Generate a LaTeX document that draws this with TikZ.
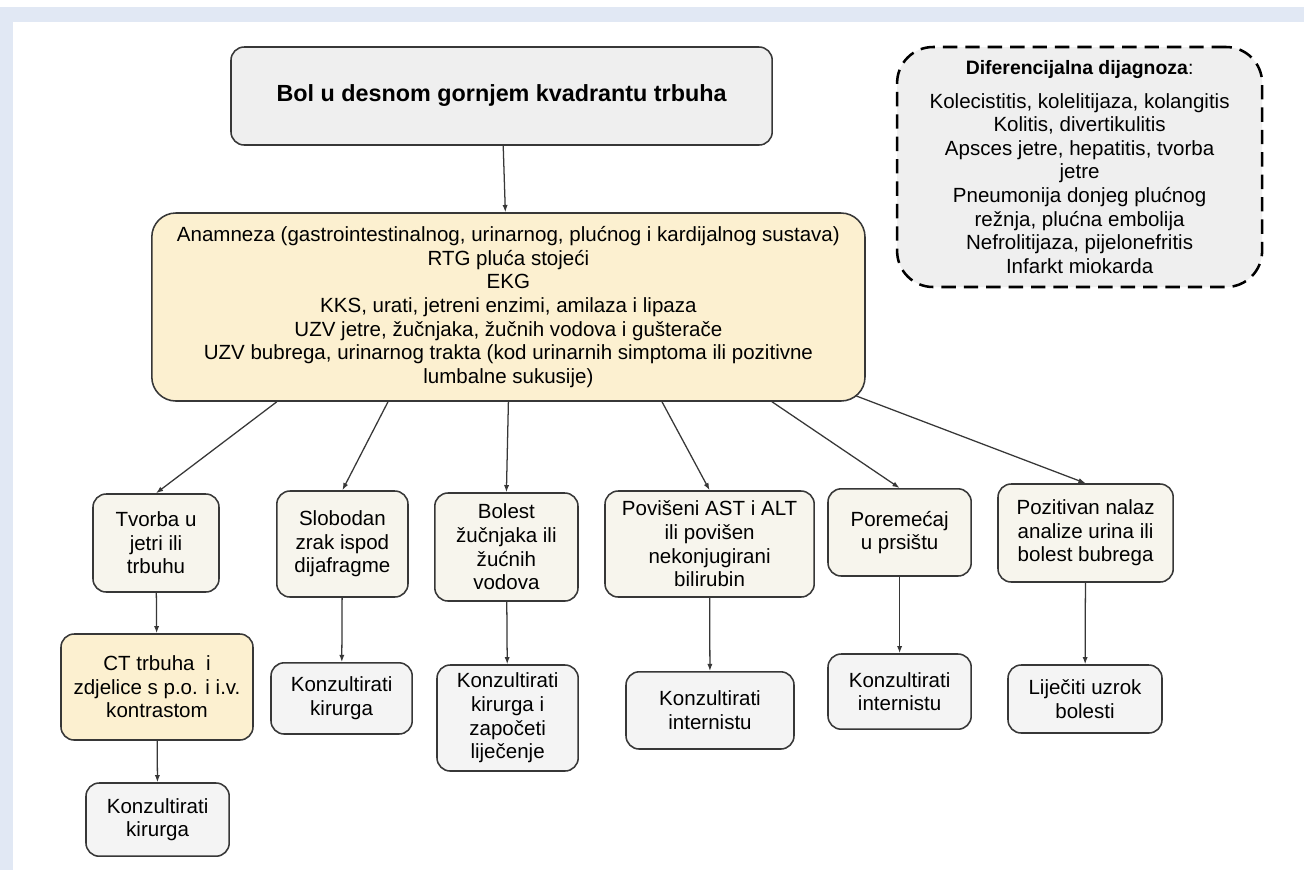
\documentclass[tikz,border=0pt]{standalone}
\usepackage{fontspec}
\setmainfont{Liberation Sans}
\usetikzlibrary{arrows.meta}
\definecolor{bandeau}{RGB}{225,232,244}
\definecolor{bord}{RGB}{55,55,55}
\definecolor{gris}{RGB}{239,239,239}
\definecolor{grisclair}{RGB}{244,244,244}
\definecolor{jaune}{RGB}{252,240,208}
\definecolor{creme}{RGB}{247,245,237}

\begin{document}
\begin{tikzpicture}
\tikzset{boite/.style={draw=bord, line width=1.1pt, rounded corners=0.33cm, align=center, inner sep=0pt, font=\fontsize{14.6}{16.8}\selectfont},
  signe/.style={boite, fill=creme},
  action/.style={boite, fill=grisclair},
  examen/.style={boite, fill=jaune},
  fleche/.style={draw=bord, line width=0.9pt, -{Latex[length=1.8mm,width=1.3mm]}}}
\useasboundingbox (0, 0) rectangle (32.6, -21.75);
\fill[white] (0, 0) rectangle (32.6, -21.75);
\fill[bandeau] (0, -0.175) rectangle (32.6, -0.55);
\fill[bandeau] (0, -0.175) rectangle (0.325, -21.75);
\node[boite, fill=gris, minimum width=13.53cm, minimum height=2.45cm, font=\fontsize{16.6}{19}\selectfont\bfseries] (bol) at (12.54, -2.40) {Bol u desnom gornjem kvadrantu trbuha};
\node[examen, rounded corners=0.6cm, minimum width=17.83cm, minimum height=4.70cm] (anam) at (12.71, -7.675) {Anamneza (gastrointestinalnog, urinarnog, plućnog i kardijalnog sustava)\\ RTG pluća stojeći\\ EKG\\ KKS, urati, jetreni enzimi, amilaza i lipaza\\ UZV jetre, žučnjaka, žučnih vodova i gušterače\\ UZV bubrega, urinarnog trakta (kod urinarnih simptoma ili pozitivne\\ lumbalne sukusije)};
\node[boite, fill=gris, draw=black, line width=1.8pt, dash pattern=on 0.36cm off 0.2cm, rounded corners=0.9cm, minimum width=9.125cm, minimum height=6.0cm] (diff) at (26.99, -4.175) {{\fontsize{13.8}{16}\selectfont\textbf{Diferencijalna dijagnoza}:}\\[0.25cm] Kolecistitis, kolelitijaza, kolangitis\\ Kolitis, divertikulitis\\ Apsces jetre, hepatitis, tvorba\\ jetre\\ Pneumonija donjeg plućnog\\ režnja, plućna embolija\\ Nefrolitijaza, pijelonefritis\\ Infarkt miokarda};
% prvi red
\node[signe, minimum width=3.15cm, minimum height=2.45cm] (tvorba) at (3.90, -13.575) {Tvorba u\\ jetri ili\\ trbuhu};
\node[signe, minimum width=3.28cm, minimum height=2.65cm] (zrak) at (8.56, -13.60) {Slobodan\\ zrak ispod\\ dijafragme};
\node[signe, minimum width=3.58cm, minimum height=2.70cm] (zuc) at (12.66, -13.675) {Bolest\\ žučnjaka ili\\ žućnih\\ vodova};
\node[signe, minimum width=5.23cm, minimum height=2.65cm] (ast) at (17.74, -13.60) {Povišeni AST i ALT\\ ili povišen\\ nekonjugirani\\ bilirubin};
\node[signe, minimum width=3.58cm, minimum height=2.18cm] (prs) at (22.49, -13.31) {Poremećaj\\ u prsištu};
\node[signe, minimum width=4.38cm, minimum height=2.45cm] (urin) at (27.14, -13.325) {Pozitivan nalaz\\ analize urina ili\\ bolest bubrega};
% drugi red
\node[examen, minimum width=4.80cm, minimum height=2.65cm] (ct) at (3.925, -17.175) {CT trbuha \ i\\ zdjelice s p.o. i i.v.\\ kontrastom};
\node[action, minimum width=3.53cm, minimum height=1.78cm] (kir) at (8.54, -17.46) {Konzultirati\\ kirurga};
\node[action, minimum width=3.53cm, minimum height=2.65cm] (kirz) at (12.69, -17.95) {Konzultirati\\ kirurga i\\ započeti\\ liječenje};
\node[action, minimum width=4.20cm, minimum height=1.93cm] (int) at (17.75, -17.76) {Konzultirati\\ internistu};
\node[action, minimum width=3.58cm, minimum height=1.88cm] (intp) at (22.49, -17.29) {Konzultirati\\ internistu};
\node[action, minimum width=3.85cm, minimum height=1.70cm] (uzrok) at (27.125, -17.475) {Liječiti uzrok\\ bolesti};
\node[action, minimum width=3.58cm, minimum height=1.83cm] (kirct) at (3.94, -20.49) {Konzultirati\\ kirurga};
% strelice
\draw[fleche] (bol) -- (anam);
\draw[fleche] ([xshift=-5.79cm]anam.south) -- (tvorba.north);
\draw[fleche] ([xshift=-3.01cm]anam.south) -- (zrak.north);
\draw[fleche] (anam.south) -- (zuc.north);
\draw[fleche] ([xshift=3.84cm]anam.south) -- (ast.north);
\draw[fleche] ([xshift=6.59cm]anam.south) -- (prs.north);
\draw[fleche] ([shift={(-0.25cm, 0.15cm)}]anam.south east) -- (urin.north);
\draw[fleche] (tvorba) -- (ct);
\draw[fleche] (ct) -- (kirct);
\draw[fleche] (zrak) -- (kir);
\draw[fleche] (zuc) -- (kirz);
\draw[fleche] (ast) -- (int);
\draw[fleche] (prs) -- (intp);
\draw[fleche] (urin) -- (uzrok);
\end{tikzpicture}
\end{document}
